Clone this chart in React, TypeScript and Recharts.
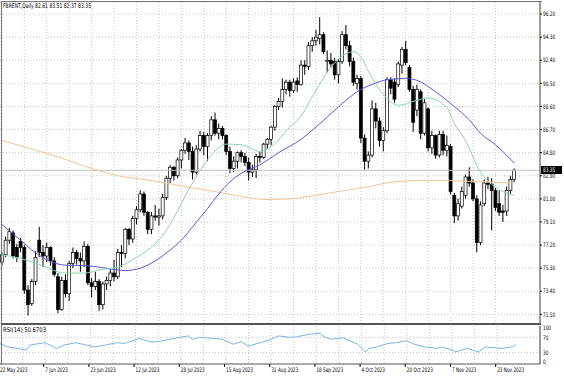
import React from 'react';
import { ComposedChart, Bar, Line, XAxis, YAxis, CartesianGrid, ReferenceLine } from 'recharts';

// trading days shown on the chart
const tradingDays: [string, number[]][] = [
  ['May', [22, 23, 24, 25, 26, 29, 30, 31]],
  ['Jun', [1, 2, 5, 6, 7, 8, 9, 12, 13, 14, 15, 16, 19, 20, 21, 22, 23, 26, 27, 28, 29, 30]],
  ['Jul', [3, 5, 6, 7, 10, 11, 12, 13, 14, 17, 18, 19, 20, 21, 24, 25, 26, 27, 28, 31]],
  ['Aug', [1, 2, 3, 4, 7, 8, 9, 10, 11, 14, 15, 16, 17, 18, 21, 22, 23, 24, 25, 28, 29, 30, 31]],
  ['Sep', [1, 4, 5, 6, 7, 8, 11, 12, 13, 14, 15, 18, 19, 20, 21, 22, 25, 26, 27, 28, 29]],
  ['Oct', [2, 3, 4, 5, 6, 9, 10, 11, 12, 13, 16, 17, 18, 19, 20, 23, 24, 25, 26, 27, 30, 31]],
  ['Nov', [1, 2, 3, 6, 7, 8, 9, 10, 13, 14, 15, 16, 17, 20, 21, 22, 23, 24, 27, 28, 29, 30]],
];

const opens = [
  75.8, 76.4, 77.6, 78.2, 77.0, 77.5, 77.0, 73.5, 72.4, 74.2, 77.6, 76.6, 76.3, 77.0, 75.9, 74.6, 71.9, 74.3, 73.2, 75.7,
  76.6, 76.1, 75.9, 77.1, 74.1, 73.8, 74.2, 72.3, 74.0, 74.3, 74.9, 74.6, 76.6, 76.5, 78.5, 77.7, 79.4, 80.1, 81.4, 79.9,
  78.5, 79.6, 79.5, 79.6, 81.1, 82.7, 83.6, 82.9, 84.2, 85.0, 85.6, 84.9, 83.2, 85.1, 86.2, 85.3, 86.2, 87.5, 86.4, 86.8,
  86.2, 84.9, 83.5, 84.1, 84.8, 84.5, 84.0, 83.2, 83.4, 84.5, 84.4, 85.5, 85.9, 86.9, 88.6, 89.0, 90.0, 90.6, 89.9, 90.7,
  90.4, 92.0, 91.9, 93.6, 94.0, 94.2, 94.5, 92.3, 92.4, 92.3, 91.2, 92.3, 94.5, 93.6, 92.3, 90.5, 90.9, 86.0, 84.1, 84.6,
  88.4, 87.4, 85.8, 86.6, 90.8, 90.6, 90.4, 92.0, 93.3, 91.8, 90.0, 88.3, 89.8, 86.4, 88.4, 85.2, 86.2, 84.6, 86.3, 85.0,
  85.3, 81.3, 79.6, 80.4, 81.3, 82.8, 82.3, 81.0, 77.4, 80.6, 82.3, 82.2, 81.7, 80.6, 80.0, 80.0, 81.7, 82.61,
];
const highs = [
  76.6, 77.9, 78.6, 78.4, 77.3, 77.8, 77.2, 73.9, 74.4, 76.7, 78.7, 77.2, 77.4, 77.1, 76.2, 74.9, 74.6, 74.8, 75.9, 77.0,
  76.8, 76.6, 77.5, 77.3, 74.5, 75.0, 74.4, 74.2, 74.6, 75.3, 76.0, 76.9, 77.2, 78.6, 78.6, 79.6, 80.4, 81.7, 81.6, 80.0,
  79.9, 80.5, 80.2, 81.4, 82.9, 83.8, 83.7, 84.4, 85.1, 86.0, 85.8, 85.3, 85.4, 86.6, 86.5, 86.4, 87.8, 88.1, 87.2, 87.0,
  86.3, 85.3, 84.5, 84.9, 85.0, 84.8, 84.4, 83.8, 84.7, 84.9, 85.6, 86.0, 87.0, 88.7, 89.3, 90.9, 90.8, 90.8, 90.9, 91.0,
  92.4, 92.4, 93.9, 94.3, 94.9, 95.95, 94.7, 93.2, 93.0, 92.6, 92.5, 94.8, 95.3, 94.0, 92.6, 91.2, 91.1, 86.3, 84.9, 89.1,
  88.9, 87.7, 86.9, 91.0, 91.0, 90.9, 92.3, 93.5, 94.0, 92.0, 90.3, 90.4, 90.0, 89.2, 88.5, 86.6, 86.3, 86.6, 86.6, 86.2,
  85.5, 81.5, 81.0, 82.0, 83.0, 83.6, 82.6, 81.3, 80.8, 82.6, 82.8, 82.7, 81.9, 81.7, 80.5, 82.0, 82.9, 83.51,
];
const lows = [
  75.5, 76.2, 77.3, 76.1, 75.8, 76.6, 73.2, 71.4, 72.2, 73.9, 76.2, 75.4, 75.8, 75.5, 74.6, 71.6, 71.8, 72.9, 72.6, 75.3,
  75.6, 75.0, 75.4, 73.9, 72.9, 73.5, 71.8, 71.9, 73.5, 73.8, 74.2, 74.4, 75.4, 76.1, 77.2, 77.4, 78.9, 79.9, 79.6, 78.1,
  78.1, 79.2, 78.8, 79.3, 80.9, 82.3, 82.5, 82.7, 83.5, 84.7, 84.2, 82.6, 83.0, 84.9, 84.6, 84.1, 85.8, 86.2, 85.9, 85.9,
  84.6, 83.1, 83.2, 83.5, 84.0, 83.7, 82.5, 82.8, 82.7, 84.0, 84.3, 85.1, 85.4, 86.6, 88.3, 88.5, 89.6, 89.4, 89.7, 89.8,
  90.3, 91.2, 91.6, 93.1, 93.6, 93.7, 92.9, 91.4, 91.8, 90.8, 90.5, 92.1, 93.3, 91.9, 90.3, 90.0, 85.6, 83.4, 83.5, 84.4,
  86.8, 85.3, 84.9, 86.4, 89.6, 88.9, 90.2, 91.3, 92.0, 89.8, 86.5, 87.8, 85.9, 86.2, 84.9, 84.7, 84.3, 84.4, 84.6, 84.5,
  81.4, 79.0, 79.2, 80.2, 81.0, 82.0, 80.8, 76.6, 77.2, 80.4, 81.8, 78.4, 80.0, 79.6, 79.1, 79.6, 81.4, 82.37,
];
const closes = [
  76.4, 77.6, 78.3, 76.3, 76.2, 77.0, 73.5, 72.3, 74.2, 76.2, 76.6, 76.3, 77.0, 75.9, 74.8, 71.9, 74.3, 73.2, 75.7, 76.6,
  76.1, 75.9, 77.1, 74.1, 73.8, 74.2, 72.3, 74.0, 74.3, 74.9, 74.6, 76.6, 76.5, 78.5, 77.7, 79.4, 80.1, 81.4, 79.9, 78.5,
  79.6, 79.5, 79.6, 81.1, 82.7, 83.6, 82.9, 84.2, 85.0, 85.6, 84.9, 83.2, 85.1, 86.2, 85.3, 86.2, 87.5, 86.4, 86.8, 86.2,
  84.9, 83.5, 84.1, 84.8, 84.5, 84.0, 83.2, 83.4, 84.5, 84.4, 85.5, 85.9, 86.9, 88.6, 89.0, 90.0, 90.6, 89.9, 90.6, 90.4,
  92.0, 91.9, 93.6, 94.0, 94.3, 94.5, 93.1, 92.4, 92.1, 91.2, 92.3, 94.5, 93.6, 92.3, 90.6, 90.9, 86.0, 84.1, 84.6, 88.4,
  87.4, 85.8, 86.6, 90.8, 90.1, 89.2, 92.1, 93.3, 92.2, 90.0, 87.3, 90.0, 86.4, 88.9, 85.2, 86.2, 84.6, 86.3, 85.0, 85.4,
  81.6, 79.6, 80.6, 81.6, 82.8, 82.3, 81.0, 77.4, 80.5, 82.3, 82.2, 81.7, 80.3, 79.9, 79.9, 81.7, 82.6, 83.35,
];

// moving averages as [bar index, value]
const ma20Points = [
  [0, 76.4], [5, 76.1], [10, 75.6], [17, 74.9], [22, 74.9], [26, 75.15], [31, 75.4], [35, 76.0], [39, 76.8], [42, 77.6],
  [45, 78.9], [48, 80.6], [50, 81.8], [53, 83.3], [56, 84.6], [60, 85.5], [64, 85.45], [69, 84.9], [72, 85.3], [77, 86.9],
  [80, 87.8], [83, 89.4], [87, 91.4], [90, 92.5], [94, 93.1], [96, 92.7], [98, 91.5], [102, 89.6], [106, 88.7], [111, 89.1],
  [114, 89.3], [119, 88.5], [121, 87.2], [124, 85.8], [128, 83.2], [131, 82.2], [134, 81.6], [137, 81.3],
];
const ma50Points = [
  [0, 78.9], [5, 77.6], [8, 76.8], [13, 75.85], [17, 75.55], [23, 75.5], [28, 75.3], [33, 75.1], [37, 75.3], [42, 76.1],
  [45, 76.8], [48, 77.6], [51, 78.7], [55, 80.2], [58, 81.4], [61, 82.4], [64, 83.1], [69, 83.8], [74, 84.8], [80, 85.9],
  [84, 86.9], [88, 88.0], [92, 89.1], [96, 90.0], [99, 90.4], [103, 90.8], [108, 90.9], [111, 90.75], [116, 89.8],
  [121, 88.6], [125, 87.5], [128, 86.4], [132, 85.45], [137, 83.95],
];
const ma200Points = [
  [0, 85.8], [8, 85.1], [16, 84.35], [25, 83.4], [31, 82.9], [38, 82.6], [44, 82.3], [50, 81.95], [57, 81.6], [64, 81.2],
  [71, 80.95], [77, 81.0], [83, 81.25], [90, 81.6], [98, 82.0], [105, 82.4], [112, 82.5], [120, 82.5], [128, 82.4], [137, 82.3],
];
const rsiPoints = [
  [0, 54], [2, 45], [7, 37], [8, 50], [12, 56], [15, 41], [17, 50], [20, 56], [23, 50], [25, 45], [28, 50], [31, 56],
  [33, 54], [37, 67], [40, 58], [42, 59], [46, 67], [50, 74], [51, 65], [53, 70], [56, 68], [59, 65], [62, 52], [64, 59],
  [66, 47], [70, 59], [72, 65], [74, 74], [77, 70], [79, 72], [82, 78], [85, 81], [86, 72], [88, 65], [91, 69], [95, 52],
  [97, 32], [98, 41], [100, 45], [103, 54], [105, 56], [108, 61], [110, 52], [112, 47], [113, 45], [116, 41], [117, 45],
  [120, 37], [121, 32], [124, 41], [127, 32], [129, 45], [133, 41], [136, 45], [137, 50.67],
];

const priceTicks = [71.5, 73.4, 75.3, 77.2, 79.1, 81.0, 82.9, 84.8, 86.7, 88.6, 90.5, 92.4, 94.3, 96.2];
const rsiTicks = [0, 30, 70, 100];
const lastPrice = 83.35;

const dates = tradingDays.flatMap(([m, days]) => days.map((d) => `${d} ${m} 2023`));
const labelDates = dates.filter((_, i) => i % 12 === 0);
const gridDates = dates.filter((_, i) => i % 6 === 0);

const bars: any[] = dates.map((date, i) => ({
  date,
  o: opens[i],
  h: highs[i],
  l: lows[i],
  c: closes[i],
  range: [lows[i], highs[i]],
}));
ma20Points.forEach(([i, v]) => (bars[i].ma20 = v));
ma50Points.forEach(([i, v]) => (bars[i].ma50 = v));
ma200Points.forEach(([i, v]) => (bars[i].ma200 = v));
rsiPoints.forEach(([i, v]) => (bars[i].rsi = v));

const FONT = 'DejaVu Sans';
const SX = 0.68;

const SqText = ({ x, y, children, fill = '#000', size = 6.2 }: any) => (
  <text transform={`translate(${x},${y}) scale(${SX},1)`} fontFamily={FONT} fontSize={size} fill={fill}>
    {children}
  </text>
);

const Candle = (props: any) => {
  const { x, y, width, height, payload } = props;
  const { o, h, l, c } = payload;
  const top = Math.min(y, y + height);
  const span = Math.abs(height);
  const k = h > l ? span / (h - l) : 0;
  const cx = x + width / 2;
  const bTop = top + (h - Math.max(o, c)) * k;
  const bBot = top + (h - Math.min(o, c)) * k;
  const up = c >= o;
  return (
    <g>
      <line x1={cx} x2={cx} y1={top} y2={top + span} stroke="#000" strokeWidth={1} />
      <rect
        x={cx - 1.5}
        y={bTop}
        width={3}
        height={Math.max(bBot - bTop, 0.8)}
        fill={up ? '#fff' : '#000'}
        stroke="#000"
        strokeWidth={0.7}
      />
    </g>
  );
};

const PriceTick = ({ x, y, payload }: any) => (
  <g>
    <line x1={x} x2={x + 2} y1={y} y2={y} stroke="#000" />
    <SqText x={x + 3} y={y + 2.2}>{payload.value.toFixed(2)}</SqText>
  </g>
);

const RsiTick = ({ x, y, payload }: any) => {
  const v = payload.value;
  const dy = v === 100 ? 4 : v === 0 ? 0 : 2.2;
  return <SqText x={x + 3} y={y + dy}>{v}</SqText>;
};

const DateTick = ({ x, y, payload }: any) => {
  if (!labelDates.includes(payload.value)) return <g />;
  return (
    <g>
      <line x1={x - 1.5} x2={x - 1.5} y1={y} y2={y + 3} stroke="#000" />
      <SqText x={x} y={y + 8}>{payload.value}</SqText>
    </g>
  );
};

const BidLabel = ({ viewBox }: any) => {
  const { x, y, width } = viewBox;
  return (
    <g>
      <rect x={x + width + 1} y={y - 4.3} width={21} height={8} fill="#000" />
      <SqText x={x + width + 3} y={y + 1.9} fill="#fff">{lastPrice.toFixed(2)}</SqText>
    </g>
  );
};

export default function App() {
  return (
    <div style={{ position: 'absolute', left: 0, top: 0, width: 564, height: 376, background: '#fff' }}>
      <div style={{ position: 'absolute', left: 0, top: 0 }}>
        <ComposedChart width={564} height={324} data={bars} margin={{ top: 2, right: 0, bottom: 0, left: 0 }}>
          <CartesianGrid stroke="#c4c4c4" strokeDasharray="1 2" />
          <XAxis dataKey="date" hide ticks={gridDates} interval={0} padding={{ left: 0, right: 24 }} />
          <YAxis
            orientation="right"
            width={24}
            domain={[70.71, 97.19]}
            ticks={priceTicks}
            interval={0}
            tickSize={0}
            tickMargin={0}
            tickLine={false}
            axisLine={{ stroke: '#444' }}
            tick={<PriceTick />}
          />
          <ReferenceLine y={lastPrice} stroke="#c0c0c0" label={BidLabel} />
          <Line dataKey="ma200" type="monotone" stroke="#f2c49a" dot={false} connectNulls isAnimationActive={false} />
          <Line dataKey="ma50" type="monotone" stroke="#5a5ad6" dot={false} connectNulls isAnimationActive={false} />
          <Line dataKey="ma20" type="monotone" stroke="#8ed4b0" dot={false} connectNulls isAnimationActive={false} />
          <Bar dataKey="range" shape={Candle} isAnimationActive={false} />
        </ComposedChart>
      </div>
      <div style={{ position: 'absolute', left: 0, top: 324 }}>
        <ComposedChart width={564} height={52} data={bars} margin={{ top: 2, right: 0, bottom: 0, left: 0 }}>
          <CartesianGrid stroke="#c4c4c4" strokeDasharray="1 2" horizontal={false} />
          <XAxis
            dataKey="date"
            ticks={gridDates}
            interval={0}
            height={12}
            padding={{ left: 0, right: 24 }}
            tickSize={0}
            tickMargin={0}
            tickLine={false}
            axisLine={{ stroke: '#555' }}
            tick={<DateTick />}
          />
          <YAxis
            orientation="right"
            width={24}
            domain={[0, 100]}
            ticks={rsiTicks}
            interval={0}
            tickSize={0}
            tickMargin={0}
            tickLine={false}
            axisLine={{ stroke: '#444' }}
            tick={<RsiTick />}
          />
          <ReferenceLine y={30} stroke="#c4c4c4" strokeDasharray="1 2" />
          <ReferenceLine y={70} stroke="#c4c4c4" strokeDasharray="1 2" />
          <Line dataKey="rsi" type="linear" stroke="#7fb2ea" dot={false} connectNulls isAnimationActive={false} />
        </ComposedChart>
      </div>
      {/* panel frame and separator */}
      <div style={{ position: 'absolute', left: 1, top: 1, width: 540, height: 363, borderLeft: '1px solid #777', borderTop: '1px solid #777' }} />
      <div style={{ position: 'absolute', left: 1, top: 323, width: 540, height: 2, background: '#555' }} />
      <svg style={{ position: 'absolute', left: 0, top: 0 }} width={564} height={376}>
        <text x={3} y={8.3} fontFamily={FONT} fontSize={6.4} textLength={88} lengthAdjust="spacingAndGlyphs">
          FBRENT,Daily  82.61 83.51 82.37 83.35
        </text>
        <text x={3} y={331.5} fontFamily={FONT} fontSize={6.4} textLength={43} lengthAdjust="spacingAndGlyphs">
          RSI(14) 50.6703
        </text>
      </svg>
    </div>
  );
}
